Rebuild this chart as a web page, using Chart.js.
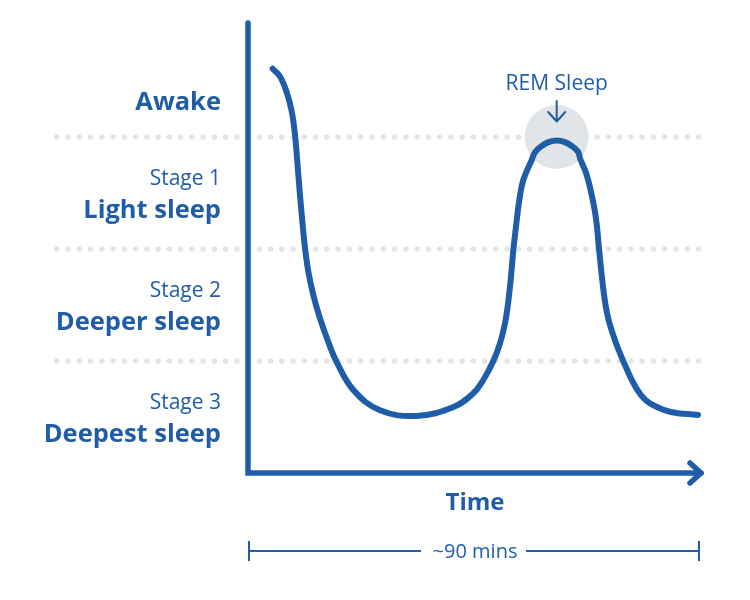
<!DOCTYPE html>
<html>
<head>
<meta charset="utf-8">
<script src="https://cdn.jsdelivr.net/npm/chart.js@4"></script>
<style>
  html, body { margin: 0; padding: 0; background: #ffffff; }
  #wrap { width: 750px; height: 600px; }
</style>
</head>
<body>
<div id="wrap"><canvas id="c" width="750" height="600"></canvas></div>
<script>
// ---- data (time in minutes, sleep level: 0 = bottom of deepest band, 4 = top of awake band)
const timeMinutes = [4.94, 6.4, 7.74, 8.74, 9.4, 9.86, 10.4, 10.94, 11.4, 12.06, 13.06, 14.4, 16.06, 17.74, 21.1, 26.4, 33.7, 41.1, 45.06, 47.06, 49.06, 50.4, 51.4, 52.1, 52.66, 53.06, 53.6, 54.26, 55.06, 56.74, 57.44, 58.74, 60.24, 61.74, 63.24, 64.74, 66.04, 66.4, 67.74, 68.74, 69.6, 70.2, 70.74, 71.4, 71.9, 72.4, 73.74, 75.4, 77.06, 78.6, 80.4, 84.4, 90.0];
const sleepLevel  = [3.61, 3.54, 3.40, 3.23, 3.02, 2.78, 2.48, 2.21, 2.01, 1.80, 1.59, 1.38, 1.17, 0.99, 0.74, 0.56, 0.51, 0.59, 0.712, 0.830, 0.999, 1.158, 1.337, 1.545, 1.783, 1.991, 2.199, 2.438, 2.616, 2.795, 2.866, 2.920, 2.957, 2.969, 2.957, 2.920, 2.866, 2.810, 2.661, 2.482, 2.274, 2.006, 1.768, 1.529, 1.411, 1.321, 1.143, 0.964, 0.804, 0.696, 0.622, 0.547, 0.518];
const bandBoundaries = [1, 2, 3];
const stageNames   = ['Awake', 'Light sleep', 'Deeper sleep', 'Deepest sleep'];
const stageNumbers = ['', 'Stage 1', 'Stage 2', 'Stage 3'];
const xAxisTitle = 'Time';
const cycleLabel = '~90 mins';
const remLabel = 'REM Sleep';
const remPeakMinute = 61.74;
const remPeakLevel = 3;

const BLUE = '#1f5da8';
const GREY = '#e2e5e8';

const points = timeMinutes.map((t, i) => ({ x: t, y: sleepLevel[i] }));

const decor = {
  id: 'decor',
  beforeDatasetsDraw(chart) {
    const ctx = chart.ctx;
    const xs = chart.scales.x, ys = chart.scales.y;
    const ca = chart.chartArea;
    ctx.save();
    // dotted band lines
    ctx.fillStyle = GREY;
    bandBoundaries.forEach(v => {
      const py = ys.getPixelForValue(v);
      for (let px = 56.7; px <= ca.right + 1; px += 11.26) {
        ctx.beginPath();
        ctx.arc(px, py, 2.8, 0, Math.PI * 2);
        ctx.fill();
      }
    });
    // REM highlight circle
    const cx = xs.getPixelForValue(remPeakMinute);
    const cy = ys.getPixelForValue(remPeakLevel);
    ctx.beginPath();
    ctx.arc(cx, cy, 32, 0, Math.PI * 2);
    ctx.fillStyle = GREY;
    ctx.fill();

    // axes
    ctx.strokeStyle = BLUE;
    ctx.lineWidth = 5.5;
    ctx.lineCap = 'round';
    ctx.lineJoin = 'miter';
    ctx.beginPath();
    ctx.moveTo(ca.left, ca.top - 2);
    ctx.lineTo(ca.left, ca.bottom);
    ctx.lineTo(ca.right + 3, ca.bottom);
    ctx.stroke();
    ctx.lineJoin = 'round';
    ctx.beginPath();
    ctx.moveTo(ca.right - 8, ca.bottom - 10);
    ctx.lineTo(ca.right + 3, ca.bottom);
    ctx.lineTo(ca.right - 8, ca.bottom + 10);
    ctx.stroke();
    ctx.restore();
  },
  afterDraw(chart) {
    const ctx = chart.ctx;
    const xs = chart.scales.x, ys = chart.scales.y;
    const ca = chart.chartArea;
    ctx.save();
    ctx.fillStyle = BLUE;
    ctx.textAlign = 'right';
    ctx.textBaseline = 'alphabetic';
    const labelX = 221;
    // Awake
    ctx.font = 'bold 25.5px "Open Sans"';
    ctx.fillText(stageNames[0], labelX, ys.getPixelForValue(3) - 27);
    for (let i = 1; i < stageNames.length; i++) {
      const top = ys.getPixelForValue(4 - i);
      ctx.font = '21px "Open Sans"';
      ctx.fillText(stageNumbers[i], labelX, top + 48);
      ctx.font = 'bold 25.5px "Open Sans"';
      ctx.fillText(stageNames[i], labelX, top + 81);
    }
    // Time
    const midX = (ca.left + ca.right) / 2;
    ctx.textAlign = 'center';
    ctx.font = 'bold 24px "Open Sans"';
    ctx.fillText(xAxisTitle, midX + 2, ca.bottom + 37);
    // bracket
    const by = ca.bottom + 78;
    ctx.strokeStyle = BLUE;
    ctx.lineWidth = 2;
    ctx.lineCap = 'butt';
    ctx.beginPath();
    ctx.moveTo(ca.left + 1, by); ctx.lineTo(midX - 52, by);
    ctx.moveTo(midX + 53, by); ctx.lineTo(ca.right + 1, by);
    ctx.moveTo(ca.left + 1, by - 10); ctx.lineTo(ca.left + 1, by + 10);
    ctx.moveTo(ca.right + 1, by - 10); ctx.lineTo(ca.right + 1, by + 10);
    ctx.stroke();
    ctx.font = '20px "Open Sans"';
    ctx.fillText(cycleLabel, midX + 2, by + 7);
    // REM label and arrow
    const cx = xs.getPixelForValue(remPeakMinute);
    ctx.font = '21px "Open Sans"';
    ctx.fillText(remLabel, cx, 90);
    ctx.lineWidth = 2;
    ctx.lineCap = 'round';
    ctx.lineJoin = 'round';
    ctx.beginPath();
    ctx.moveTo(cx, 101); ctx.lineTo(cx, 121);
    ctx.moveTo(cx - 8.5, 112); ctx.lineTo(cx, 121.5); ctx.lineTo(cx + 8.5, 112);
    ctx.stroke();
    ctx.restore();
  }
};

new Chart(document.getElementById('c'), {
  type: 'line',
  data: {
    datasets: [{
      data: points,
      borderColor: BLUE,
      borderWidth: 6,
      borderCapStyle: 'round',
      borderJoinStyle: 'round',
      pointRadius: 0,
      tension: 0.4,
      fill: false,
      clip: false
    }]
  },
  options: {
    responsive: false,
    animation: false,
    devicePixelRatio: 1,
    layout: { padding: { left: 248, right: 52, top: 25, bottom: 127 } },
    plugins: { legend: { display: false }, tooltip: { enabled: false } },
    scales: {
      x: { type: 'linear', min: 0, max: 90, display: false },
      y: { type: 'linear', min: 0, max: 4, display: false }
    }
  },
  plugins: [decor]
});
</script>
</body>
</html>
